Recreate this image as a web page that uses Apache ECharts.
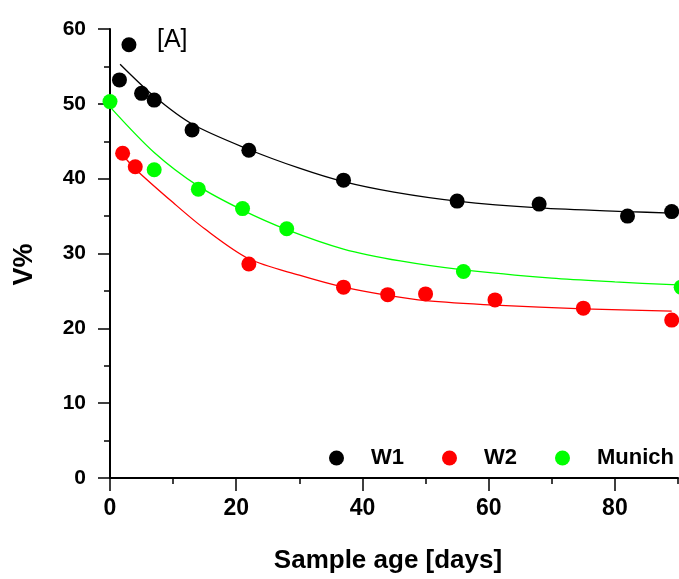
<!DOCTYPE html>
<html><head><meta charset="utf-8">
<script src="https://cdn.jsdelivr.net/npm/echarts@6/dist/echarts.min.js"></script>
<style>html,body{margin:0;padding:0;background:#fff}#c{width:679px;height:579px}</style>
</head><body><div id="c"></div>
<script>
// ---- tick labels ----
const xTickValues = [0, 20, 40, 60, 80];
const xMinorTickValues = [10, 30, 50, 70, 90];
const yTickValues = [0, 10, 20, 30, 40, 50, 60];

// ---- measured points ----
const w1Days = [1.5, 3, 5, 7, 13, 22, 37, 55, 68, 82, 89];
const w1V    = [53.2, 57.9, 51.4, 50.5, 46.5, 43.8, 39.8, 37.0, 36.6, 35.0, 35.6];
const w2Days = [2, 4, 22, 37, 44, 50, 61, 75, 89];
const w2V    = [43.4, 41.6, 28.6, 25.5, 24.5, 24.6, 23.8, 22.7, 21.1];
const muDays = [0, 7, 14, 21, 28, 56, 90.5];
const muV    = [50.3, 41.2, 38.6, 36.0, 33.3, 27.6, 25.5];

// ---- fitted curves ----
const w1FitDays = [1.6, 7, 13, 22, 30, 37, 45, 55, 68, 82, 89];
const w1FitV    = [55.3, 51.0, 47.3, 43.9, 41.4, 39.6, 38.2, 37.0, 36.1, 35.6, 35.4];
const w2FitDays = [2, 4, 10, 15, 22, 30, 37, 44, 50, 61, 75, 89];
const w2FitV    = [43.2, 41.3, 36.8, 33.3, 29.3, 27.1, 25.5, 24.4, 23.7, 23.1, 22.6, 22.3];
const muFitDays = [0, 7, 14, 21, 28, 37, 46, 56, 70, 80, 90];
const muFitV    = [49.6, 43.5, 39.0, 35.8, 33.2, 30.6, 29.0, 27.8, 26.7, 26.2, 25.8];

const pairs = (xs, ys) => xs.map((x, i) => [x, ys[i]]);
const FONT = 'Liberation Sans, Arial, Helvetica, sans-serif';
const BLACK = '#000000', RED = '#ff0000', GREEN = '#00ff00';

const chart = echarts.init(document.getElementById('c'), null, {renderer: 'canvas'});

function fitSeries(name, xs, ys, color) {
  return {
    name: name, type: 'line', data: pairs(xs, ys), smooth: 0.3,
    showSymbol: false, symbol: 'none', lineStyle: {color: color, width: 1.3},
    itemStyle: {color: color}, z: 2, silent: true, clip: false
  };
}
function pointSeries(name, xs, ys, color) {
  return {
    name: name, type: 'scatter', data: pairs(xs, ys), symbol: 'circle', symbolSize: 15,
    itemStyle: {color: color, opacity: 1}, z: 5, clip: false
  };
}

chart.setOption({
  animation: false,
  backgroundColor: '#ffffff',
  grid: {left: 110, right: 1, top: 29, bottom: 99, containLabel: false},
  legend: {
    data: ['W1', 'W2', 'Munich'], left: 329, top: 447, padding: 0,
    icon: 'circle', itemWidth: 15, itemHeight: 15, itemGap: 38,
    textStyle: {fontFamily: FONT, fontSize: 22, fontWeight: 'bold', color: '#000', padding: [0, 0, 0, 22]}
  },
  xAxis: [{
    type: 'value', min: 0, max: 90, interval: 10, position: 'bottom',
    name: 'Sample age [days]', nameLocation: 'middle', nameGap: 70,
    nameTextStyle: {fontFamily: FONT, fontSize: 26, fontWeight: 'bold', color: '#000', padding: [0, 12, 0, 0]},
    axisLine: {show: true, onZero: false, lineStyle: {color: '#000', width: 2}},
    axisTick: {show: true, inside: false, length: 13, customValues: xTickValues, lineStyle: {color: '#000', width: 1.5}},
    axisLabel: {show: true, customValues: xTickValues, margin: 19, fontFamily: FONT, fontSize: 23, fontWeight: 'bold', color: '#000'},
    splitLine: {show: false}
  }, {
    type: 'value', min: 0, max: 90, interval: 10, position: 'bottom', offset: 0,
    axisLine: {show: false},
    axisTick: {show: true, inside: false, length: 6, customValues: xMinorTickValues, lineStyle: {color: '#000', width: 1.5}},
    axisLabel: {show: false},
    splitLine: {show: false}
  }],
  yAxis: {
    type: 'value', min: 0, max: 60, interval: 10,
    name: 'V%', nameLocation: 'middle', nameGap: 72,
    nameTextStyle: {fontFamily: FONT, fontSize: 27, fontWeight: 'bold', color: '#000', padding: [0, 22, 0, 0]},
    axisLine: {show: true, onZero: false, lineStyle: {color: '#000', width: 2}},
    axisTick: {show: true, inside: false, length: 12, lineStyle: {color: '#000', width: 1.5}},
    minorTick: {show: true, splitNumber: 2, length: 6, lineStyle: {color: '#000', width: 1.5}},
    axisLabel: {show: true, customValues: yTickValues, margin: 24, fontFamily: FONT, fontSize: 21, fontWeight: 'bold', color: '#000'},
    splitLine: {show: false}, minorSplitLine: {show: false}
  },
  graphic: [{
    type: 'text', left: 157, top: 28, z: 10,
    style: {text: '[A]', font: '25px ' + FONT, fill: '#000'}
  }],
  series: [
    fitSeries('W1 fit', w1FitDays, w1FitV, BLACK),
    fitSeries('W2 fit', w2FitDays, w2FitV, RED),
    fitSeries('Munich fit', muFitDays, muFitV, GREEN),
    pointSeries('W1', w1Days, w1V, BLACK),
    pointSeries('W2', w2Days, w2V, RED),
    pointSeries('Munich', muDays, muV, GREEN)
  ]
});
</script>
</body></html>
